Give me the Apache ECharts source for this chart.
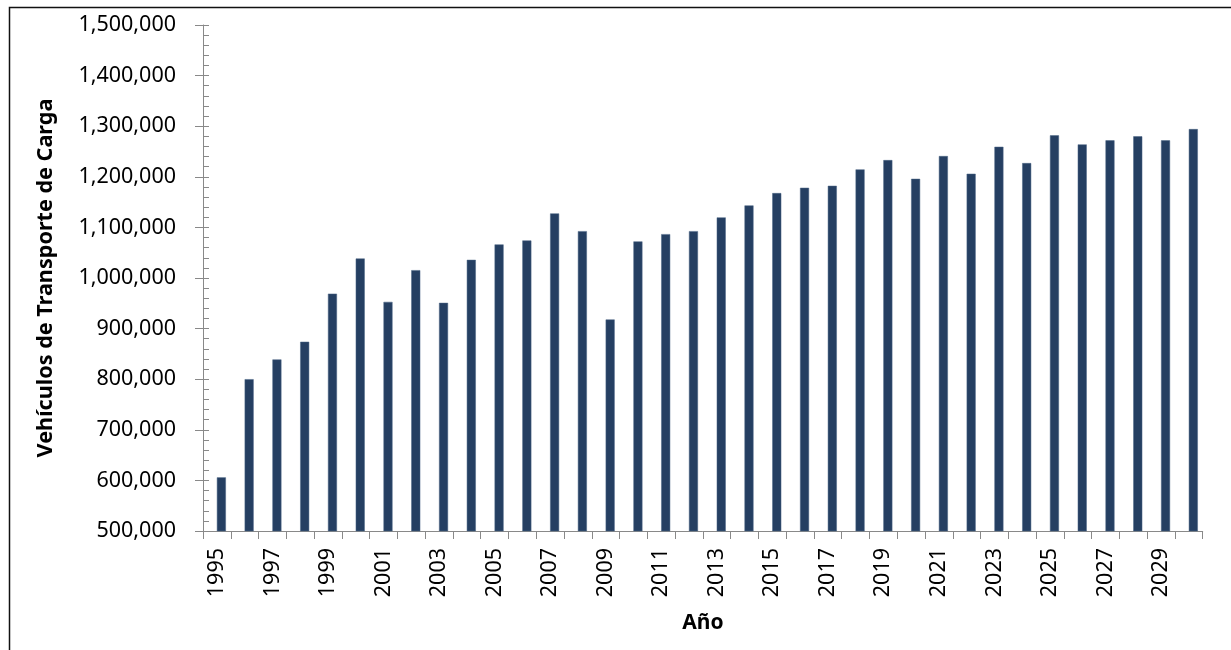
<!DOCTYPE html>
<html>
<head>
<meta charset="utf-8">
<script src="https://cdn.jsdelivr.net/npm/echarts@6/dist/echarts.min.js"></script>
<style>html,body{margin:0;padding:0;background:#fff;}#c{width:1231px;height:650px;}</style>
</head>
<body>
<div id="c"></div>
<script>
const years = ['1995','1996','1997','1998','1999','2000','2001','2002','2003','2004','2005','2006','2007','2008','2009','2010','2011','2012','2013','2014','2015','2016','2017','2018','2019','2020','2021','2022','2023','2024','2025','2026','2027','2028','2029','2030'];
const vehiculos = [606000, 800000, 839000, 874000, 969000, 1038500, 952800, 1015500, 950900, 1035900, 1066300, 1074200, 1127600, 1092600, 918000, 1072300, 1086700, 1092600, 1119700, 1143400, 1167800, 1178300, 1182200, 1214600, 1233000, 1196000, 1241000, 1206000, 1259300, 1227100, 1281900, 1264000, 1272000, 1280000, 1272000, 1294300];
const yMin = 500000, yMax = 1500000, yStep = 100000, yMinorStep = 20000;
const yTitle = 'Vehículos de Transporte de Carga';
const xTitle = 'Año';

const chart = echarts.init(document.getElementById('c'), null, {renderer: 'canvas'});
const fmt = v => v.toString().replace(/\B(?=(\d{3})+(?!\d))/g, ',');
const axisGrey = '#898989';
const font = 'Noto Sans';
chart.setOption({
  animation: false,
  backgroundColor: '#ffffff',
  graphic: [{
    type: 'rect', left: 7, top: 5, shape: {width: 1240, height: 680},
    style: {fill: 'none', stroke: '#111', lineWidth: 1.5}, silent: true
  }],
  grid: {left: 203, right: 28.3, top: 25, bottom: 119, containLabel: false},
  xAxis: {
    type: 'category', data: years, boundaryGap: true,
    axisLine: {show: true, lineStyle: {color: axisGrey, width: 1}},
    axisTick: {show: true, interval: 0, length: 8, lineStyle: {color: axisGrey}},
    axisLabel: {interval: 1, rotate: 90, margin: 17, fontFamily: font, fontSize: 21.5, color: '#000'},
    name: xTitle, nameLocation: 'middle', nameGap: 82,
    nameTextStyle: {fontFamily: font, fontWeight: 'bold', fontSize: 21, color: '#000'}
  },
  yAxis: [{
    type: 'value', min: yMin, max: yMax, interval: yStep,
    axisLine: {show: true, lineStyle: {color: axisGrey, width: 1}},
    axisTick: {show: true, length: 8, lineStyle: {color: axisGrey}},
    splitLine: {show: false},
    axisLabel: {margin: 27, fontFamily: font, fontSize: 21.5, color: '#000', formatter: fmt},
    name: yTitle, nameLocation: 'middle', nameGap: 146, nameRotate: 90,
    nameTextStyle: {fontFamily: font, fontWeight: 'bold', fontSize: 21.6, color: '#000'}
  }, {
    type: 'value', min: yMin, max: yMax, interval: yMinorStep, position: 'left',
    axisLine: {show: false},
    axisTick: {show: true, inside: true, length: 6, lineStyle: {color: axisGrey}},
    axisLabel: {show: false},
    splitLine: {show: false}
  }],
  series: [{
    type: 'bar', data: [], barWidth: 9, barGap: '0%', yAxisIndex: 0
  }, {
    type: 'bar', data: vehiculos, barWidth: 9, barGap: '0%', yAxisIndex: 0,
    itemStyle: {color: '#253F62', borderColor: '#4a6485', borderWidth: 0.5}
  }]
});
</script>
</body>
</html>
